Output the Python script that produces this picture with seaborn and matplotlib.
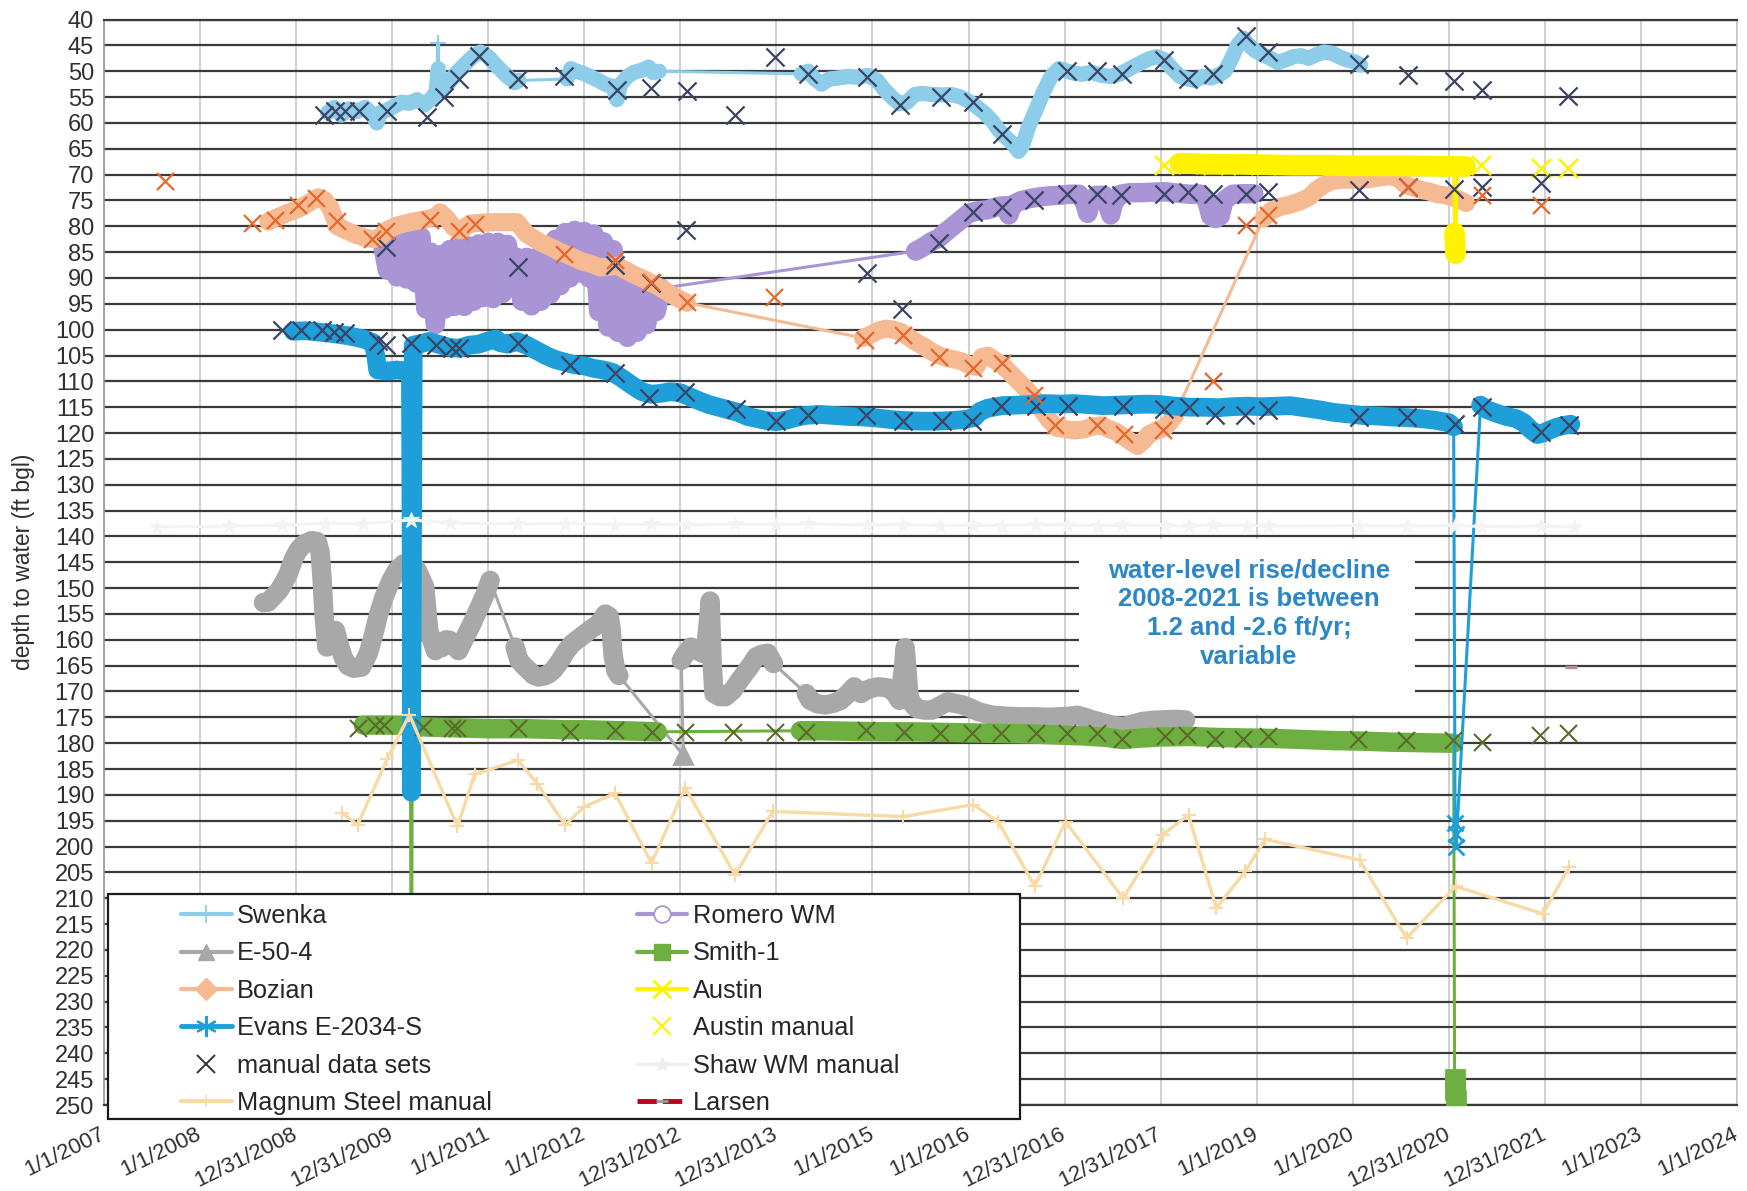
import matplotlib
matplotlib.use("Agg")
import matplotlib.pyplot as plt
from matplotlib.lines import Line2D
from matplotlib.patches import Rectangle
import seaborn as sns

# ---------------------------------------------------------------- axis data
YEAR_TICKS = list(range(2007, 2025))
TICK_LABELS = ["1/1/2007", "1/1/2008", "12/31/2008", "12/31/2009", "1/1/2011",
               "1/1/2012", "12/31/2012", "12/31/2013", "1/1/2015", "1/1/2016",
               "12/31/2016", "12/31/2017", "1/1/2019", "1/1/2020", "12/31/2020",
               "12/31/2021", "1/1/2023", "1/1/2024"]
DEPTH_TICKS = list(range(40, 251, 5))

# ------------------------------------------- logger records (runs of dense data)
SWENKA_X = [
    [2009.33, 2009.40, 2009.47, 2009.55, 2009.63, 2009.72, 2009.80, 2009.84, 2009.88,
     2009.95, 2010.02, 2010.10, 2010.18, 2010.26, 2010.34, 2010.42, 2010.46, 2010.47,
     2010.48, 2010.49, 2010.52, 2010.58, 2010.66, 2010.75, 2010.85, 2010.92, 2011.00,
     2011.10, 2011.20, 2011.28, 2011.32],
    [2011.82, 2011.86, 2011.92, 2012.00, 2012.08, 2012.15, 2012.22, 2012.30, 2012.34,
     2012.38, 2012.45, 2012.52, 2012.60, 2012.67, 2012.72, 2012.78],
    [2014.26, 2014.33, 2014.40, 2014.47, 2014.55, 2014.65, 2014.75, 2014.85, 2014.95,
     2015.05, 2015.12, 2015.20, 2015.28, 2015.36, 2015.44, 2015.52, 2015.62, 2015.72,
     2015.82, 2015.92, 2016.00, 2016.08, 2016.16, 2016.24, 2016.32, 2016.40, 2016.46,
     2016.52, 2016.56, 2016.62, 2016.70, 2016.78, 2016.86, 2016.94, 2017.00, 2017.08,
     2017.18, 2017.28, 2017.38, 2017.48, 2017.58, 2017.68, 2017.78, 2017.88, 2017.96,
     2018.04, 2018.12, 2018.20, 2018.28, 2018.36, 2018.44, 2018.52, 2018.60, 2018.67,
     2018.74, 2018.80, 2018.86, 2018.92, 2018.98, 2019.06, 2019.14, 2019.22, 2019.30,
     2019.38, 2019.46, 2019.54, 2019.62, 2019.70, 2019.78, 2019.86, 2019.94, 2020.02,
     2020.08],
]
SWENKA_Y = [
    [58.0, 57.0, 58.5, 57.3, 57.8, 57.0, 58.5, 60.0, 58.0, 57.5, 56.8, 56.0, 56.2, 55.5,
     56.5, 55.0, 54.0, 51.5, 49.5, 51.5, 53.5, 52.5, 50.5, 48.8, 47.0, 46.3, 47.2, 49.2,
     51.0, 52.2, 51.8],
    [51.5, 49.5, 50.0, 50.5, 51.2, 51.8, 52.5, 53.0, 55.5, 52.5, 51.0, 50.2, 49.8, 49.2,
     50.3, 50.0],
    [50.5, 50.0, 51.5, 52.5, 51.5, 51.3, 51.0, 51.2, 50.8, 51.8, 53.5, 55.0, 56.3, 56.0,
     54.5, 54.3, 54.5, 54.6, 54.5, 55.0, 55.8, 56.8, 58.0, 59.5, 61.5, 63.0, 64.0, 65.5,
     64.5, 61.0, 57.5, 54.0, 51.0, 49.5, 49.8, 50.3, 50.6, 50.2, 50.8, 51.0, 50.5, 49.5,
     48.5, 47.6, 47.2, 47.8, 49.5, 51.0, 51.5, 51.8, 51.0, 51.3, 50.8, 50.0, 47.5, 45.0,
     43.6, 45.0, 46.0, 46.8, 47.5, 48.3, 47.8, 47.2, 47.0, 47.5, 46.8, 46.3, 46.5, 47.2,
     47.8, 48.2, 48.8],
]
SWENKA_SPIKE_X = [2010.48, 2010.48]
SWENKA_SPIKE_Y = [50.0, 44.5]

ROMERO_X = [
    [2009.90, 2009.95, 2010.00, 2010.05, 2010.10, 2010.15, 2010.20, 2010.25, 2010.30,
     2010.35, 2010.40, 2010.45, 2010.50, 2010.55, 2010.60, 2010.65, 2010.70, 2010.75,
     2010.80, 2010.85, 2010.90, 2010.95, 2011.00, 2011.05, 2011.10, 2011.15, 2011.20,
     2011.25, 2011.30, 2011.35, 2011.40, 2011.45, 2011.50, 2011.55, 2011.60, 2011.65,
     2011.70, 2011.75, 2011.80, 2011.85, 2011.90, 2011.95, 2012.00, 2012.05, 2012.10,
     2012.15, 2012.20, 2012.25, 2012.30, 2012.35, 2012.40, 2012.45, 2012.50, 2012.55,
     2012.60, 2012.65, 2012.70, 2012.75, 2012.80],
    [2015.45, 2015.53, 2015.61, 2015.69, 2015.77, 2015.85, 2015.93, 2016.00, 2016.10,
     2016.20, 2016.30, 2016.38, 2016.42, 2016.46, 2016.55, 2016.65, 2016.75, 2016.85,
     2016.95, 2017.05, 2017.15, 2017.21, 2017.24, 2017.27, 2017.33, 2017.41, 2017.45,
     2017.48, 2017.51, 2017.58, 2017.68, 2017.80, 2017.92, 2018.05, 2018.18, 2018.30,
     2018.42, 2018.48, 2018.52, 2018.57, 2018.62, 2018.66, 2018.75, 2018.85, 2018.97],
]
ROMERO_Y = [
    [83.5, 88.5, 81.5, 89.8, 80.8, 90.2, 81.0, 91.0, 82.0, 96.0, 85.0, 99.0, 85.5, 96.0,
     84.5, 95.5, 84.0, 95.5, 83.8, 94.5, 83.4, 93.8, 83.1, 94.0, 83.1, 93.0, 83.5, 91.5,
     86.0, 94.5, 86.0, 95.4, 86.0, 94.5, 86.3, 93.1, 82.5, 91.5, 81.2, 90.0, 80.8, 89.0,
     81.0, 90.0, 81.5, 96.5, 83.0, 99.5, 84.5, 100.5, 90.0, 101.5, 90.5, 100.5, 91.0,
     99.0, 92.0, 96.5, 92.0],
    [84.8, 84.0, 83.0, 82.3, 81.0, 79.8, 78.6, 77.5, 77.0, 76.8, 76.2, 76.0, 77.8, 75.8,
     75.0, 74.6, 74.3, 74.1, 74.0, 73.8, 73.8, 75.5, 77.5, 75.5, 74.0, 74.0, 76.0, 77.8,
     75.5, 73.8, 73.5, 73.5, 73.4, 73.3, 73.6, 73.8, 73.8, 75.0, 78.0, 78.5, 78.0, 75.0,
     73.8, 73.7, 73.7],
]

E50_X = [
    [2008.66, 2008.71, 2008.77, 2008.82, 2008.87, 2008.92, 2008.97, 2009.02, 2009.08,
     2009.16, 2009.22, 2009.25, 2009.27, 2009.29, 2009.32, 2009.36, 2009.41, 2009.45,
     2009.49, 2009.54, 2009.60, 2009.68, 2009.75, 2009.80, 2009.86, 2009.92, 2009.99,
     2010.05, 2010.12, 2010.18, 2010.26, 2010.34, 2010.36, 2010.38, 2010.42, 2010.45,
     2010.48, 2010.52, 2010.56, 2010.60, 2010.64, 2010.69, 2010.76, 2010.83, 2010.90,
     2010.97, 2011.02],
    [2011.28, 2011.32, 2011.37, 2011.42, 2011.47, 2011.52, 2011.58, 2011.63, 2011.68,
     2011.73, 2011.80, 2011.87, 2011.94, 2012.01, 2012.08, 2012.15, 2012.22, 2012.26,
     2012.28, 2012.30, 2012.33, 2012.36],
    [2013.03],
    [2013.01, 2013.06, 2013.11, 2013.17, 2013.23, 2013.27, 2013.30, 2013.31, 2013.32,
     2013.33, 2013.35, 2013.41, 2013.47, 2013.55, 2013.61, 2013.67, 2013.73, 2013.79,
     2013.85, 2013.91, 2013.97],
    [2014.31, 2014.35, 2014.43, 2014.51, 2014.59, 2014.67, 2014.74, 2014.81, 2014.88,
     2014.94, 2015.00, 2015.06, 2015.12, 2015.18, 2015.24, 2015.28, 2015.32, 2015.34,
     2015.36, 2015.38, 2015.42, 2015.46, 2015.54, 2015.62, 2015.70, 2015.78, 2015.86,
     2015.94, 2016.02, 2016.10, 2016.18, 2016.26, 2016.40, 2016.54, 2016.70, 2016.85,
     2016.93, 2017.05, 2017.13, 2017.21, 2017.29, 2017.39, 2017.49, 2017.61, 2017.71,
     2017.81, 2017.91, 2018.01, 2018.14, 2018.26],
]
E50_Y = [
    [152.8, 152.7, 151.5, 150.5, 149.0, 147.2, 144.5, 142.7, 141.5, 140.8, 141.0, 143.0,
     148.0, 155.0, 161.4, 160.0, 158.2, 161.0, 163.4, 165.0, 165.5, 165.3, 162.7, 159.5,
     155.0, 151.5, 148.5, 146.5, 145.3, 145.0, 146.5, 149.8, 154.0, 158.2, 160.5, 162.1,
     161.0, 161.5, 160.0, 160.1, 161.0, 162.1, 159.5, 156.9, 154.0, 151.1, 148.5],
    [161.4, 164.0, 165.0, 165.9, 166.8, 167.2, 167.0, 166.6, 165.8, 164.6, 162.5, 160.8,
     159.8, 158.8, 157.8, 156.9, 155.0, 155.5, 158.0, 163.0, 166.0, 166.9],
    [182.3],
    [164.0, 162.5, 161.4, 162.0, 162.6, 160.5, 155.0, 152.5, 158.0, 164.0, 170.4, 171.0,
     171.0, 169.7, 168.0, 166.5, 165.0, 163.3, 162.8, 162.6, 164.6],
    [170.4, 171.7, 172.4, 172.6, 172.3, 171.7, 170.5, 169.1, 170.4, 169.7, 169.3, 169.1,
     169.2, 169.4, 170.5, 171.7, 166.0, 161.5, 166.0, 171.0, 172.5, 173.3, 173.6, 173.6,
     172.8, 172.0, 172.3, 172.6, 173.2, 173.9, 174.3, 174.6, 174.8, 174.9, 174.9, 175.0,
     174.9, 174.8, 174.6, 175.0, 175.5, 176.0, 176.5, 176.8, 176.3, 175.8, 175.6, 175.5,
     175.4, 175.5],
]

BOZIAN_X = [
    [2008.71, 2008.80, 2008.90, 2009.03, 2009.13, 2009.23, 2009.30, 2009.36, 2009.43,
     2009.52, 2009.63, 2009.72, 2009.81, 2009.88, 2009.94, 2010.03, 2010.12, 2010.24,
     2010.36, 2010.45, 2010.50, 2010.57, 2010.64, 2010.71, 2010.76, 2010.81, 2010.92,
     2011.06, 2011.18, 2011.30, 2011.40, 2011.47, 2011.54, 2011.65, 2011.75, 2011.86,
     2011.96, 2012.07, 2012.17, 2012.26, 2012.34, 2012.43, 2012.51, 2012.62, 2012.72,
     2012.83, 2012.93, 2013.07],
    [2014.90, 2014.98, 2015.06, 2015.14, 2015.22, 2015.30, 2015.38, 2015.46, 2015.54,
     2015.62, 2015.70, 2015.78, 2015.86, 2015.94, 2016.02, 2016.08, 2016.14, 2016.20,
     2016.28, 2016.36, 2016.44, 2016.52, 2016.60, 2016.68, 2016.76, 2016.84, 2016.92,
     2017.00, 2017.10, 2017.20, 2017.30, 2017.38, 2017.46, 2017.54, 2017.62, 2017.70,
     2017.76, 2017.82, 2017.88, 2017.96, 2018.04, 2018.10, 2018.15],
    [2019.07, 2019.15, 2019.25, 2019.35, 2019.45, 2019.55, 2019.62, 2019.70, 2019.78,
     2019.88, 2020.00, 2020.10, 2020.20, 2020.30, 2020.40, 2020.48, 2020.55, 2020.63,
     2020.72, 2020.80, 2020.88, 2020.96, 2021.04, 2021.10, 2021.18],
]
BOZIAN_Y = [
    [79.1, 78.3, 77.5, 76.6, 75.5, 74.4, 75.0, 76.5, 80.0, 80.8, 81.7, 82.2, 82.5, 82.0,
     80.8, 80.0, 79.5, 79.0, 78.6, 78.2, 77.3, 78.5, 80.2, 80.8, 80.2, 79.5, 79.3, 79.2,
     79.2, 79.2, 81.5, 82.3, 83.1, 84.0, 85.0, 85.8, 86.7, 87.3, 88.0, 87.8, 87.6, 88.5,
     89.3, 90.2, 91.2, 92.3, 93.5, 94.8],
    [101.6, 101.0, 100.2, 99.8, 100.0, 100.5, 101.5, 102.5, 103.3, 104.3, 105.0, 105.5,
     105.8, 106.2, 107.0, 107.2, 105.3, 105.0, 106.0, 107.0, 108.5, 110.0, 111.5, 113.2,
     115.5, 117.5, 119.0, 119.2, 119.5, 119.3, 118.7, 118.5, 119.2, 119.8, 120.8, 121.8,
     122.5, 121.5, 120.2, 119.5, 119.0, 117.8, 116.5],
    [78.5, 77.0, 76.2, 75.8, 75.2, 74.3, 73.0, 72.0, 71.2, 71.0, 71.0, 71.0, 70.8, 70.5,
     70.3, 70.8, 72.0, 72.5, 73.0, 73.3, 73.8, 74.0, 74.4, 74.8, 75.5],
]

EVANS_X = [
    [2008.97, 2009.10, 2009.25, 2009.40, 2009.55, 2009.70, 2009.80, 2009.83, 2009.85,
     2009.95, 2010.05, 2010.15, 2010.19, 2010.20, 2010.20, 2010.21, 2010.22, 2010.30,
     2010.38, 2010.46, 2010.55, 2010.62, 2010.70, 2010.80, 2010.90, 2011.00, 2011.08,
     2011.12, 2011.20, 2011.30, 2011.40, 2011.50, 2011.60, 2011.70, 2011.80, 2011.90,
     2012.00, 2012.10, 2012.20, 2012.30, 2012.40, 2012.50, 2012.60, 2012.70, 2012.80,
     2012.90, 2013.00, 2013.10, 2013.20, 2013.30, 2013.40, 2013.50, 2013.60, 2013.70,
     2013.80, 2013.90, 2014.00, 2014.10, 2014.20, 2014.30, 2014.45, 2014.60, 2014.75,
     2014.90, 2015.05, 2015.20, 2015.35, 2015.50, 2015.65, 2015.80, 2015.95, 2016.06,
     2016.12, 2016.20, 2016.35, 2016.50, 2016.65, 2016.80, 2016.95, 2017.10, 2017.25,
     2017.40, 2017.55, 2017.70, 2017.85, 2018.00, 2018.15, 2018.30, 2018.45, 2018.60,
     2018.75, 2018.90, 2019.05, 2019.20, 2019.35, 2019.50, 2019.65, 2019.80, 2019.95,
     2020.10, 2020.25, 2020.40, 2020.55, 2020.70, 2020.85, 2021.00, 2021.05],
    [2021.065, 2021.07, 2021.075],
    [2021.33, 2021.40, 2021.50, 2021.60, 2021.70, 2021.78, 2021.85, 2021.92, 2021.98,
     2022.05, 2022.12, 2022.20, 2022.27],
]
EVANS_Y = [
    [100.3, 100.2, 100.5, 100.8, 101.2, 101.8, 102.5, 105.0, 107.8, 108.0, 107.8, 108.0,
     108.3, 150.0, 189.5, 150.0, 103.0, 102.7, 102.3, 102.7, 103.2, 103.5, 103.6, 103.0,
     102.8, 102.2, 101.8, 102.5, 102.8, 102.3, 103.0, 104.0, 105.0, 105.8, 106.3, 106.8,
     107.0, 107.5, 107.8, 108.3, 109.5, 110.8, 112.0, 112.5, 112.3, 112.0, 112.2, 113.0,
     113.8, 114.5, 115.0, 115.5, 116.0, 116.8, 117.2, 117.6, 117.8, 117.5, 117.0, 116.6,
     116.4, 116.6, 116.8, 116.9, 117.1, 117.4, 117.6, 117.7, 117.7, 117.6, 117.4, 117.0,
     115.8, 115.2, 114.7, 114.6, 114.5, 114.3, 114.4, 114.3, 114.5, 114.7, 114.6, 114.5,
     114.4, 114.5, 114.8, 115.0, 115.0, 115.1, 114.9, 114.8, 114.9, 114.8, 114.7, 115.1,
     115.5, 116.0, 116.3, 116.6, 116.7, 116.9, 117.0, 117.2, 117.5, 118.0, 118.8],
    [195.5, 197.5, 200.0],
    [114.6, 115.5, 116.2, 116.8, 117.2, 118.0, 119.3, 120.3, 120.0, 119.4, 118.9, 118.5,
     118.3],
]

SMITH_X = [
    [2009.70, 2009.85, 2010.00, 2010.19],
    [2010.20],
    [2010.21, 2010.40, 2010.60, 2010.80, 2011.00, 2011.20, 2011.40, 2011.60, 2011.80,
     2012.00, 2012.20, 2012.40, 2012.60, 2012.76],
    [2014.25, 2014.50, 2014.80, 2015.10, 2015.40, 2015.70, 2016.00, 2016.30, 2016.60,
     2016.90, 2017.20, 2017.45, 2017.60, 2017.80, 2018.00, 2018.30, 2018.60, 2018.90,
     2019.20, 2019.50, 2019.80, 2020.10, 2020.40, 2020.70, 2021.00, 2021.05],
    [2021.06, 2021.065, 2021.07],
]
SMITH_Y = [
    [176.5, 176.5, 176.5, 176.6],
    [248.0],
    [176.8, 176.9, 177.0, 177.1, 177.2, 177.2, 177.2, 177.3, 177.4, 177.4, 177.5, 177.6,
     177.7, 177.8],
    [177.6, 177.6, 177.7, 177.8, 177.8, 177.9, 178.0, 178.1, 178.2, 178.4, 178.6, 178.9,
     179.3, 179.0, 178.8, 178.7, 178.9, 179.0, 179.1, 179.3, 179.5, 179.6, 179.8, 179.9,
     180.0, 180.0],
    [245.0, 247.0, 249.0],
]

AUSTIN_X = [
    [2018.20, 2018.50, 2018.80, 2019.10, 2019.40, 2019.70, 2020.00, 2020.30, 2020.60,
     2020.90, 2021.05],
    [2021.06, 2021.065, 2021.07],
    [2021.09, 2021.17],
]
AUSTIN_Y = [
    [67.8, 68.0, 68.0, 68.1, 68.2, 68.2, 68.3, 68.3, 68.3, 68.4, 68.4],
    [81.3, 83.3, 85.3],
    [68.4, 68.4],
]

# ------------------------------------------------------------ manual readings
MANUAL_X = [2009.29, 2009.41, 2009.51, 2009.65, 2009.95, 2010.36, 2010.54, 2010.70,
            2010.90, 2011.31, 2011.79, 2012.34, 2012.69, 2013.07, 2013.57, 2013.99,
            2014.33, 2014.94, 2015.29, 2015.71, 2016.05, 2016.35, 2017.02, 2017.34,
            2017.60, 2018.03, 2018.28, 2018.55, 2018.89, 2019.12, 2020.06, 2020.57,
            2021.05, 2021.35, 2022.24,
            2009.94, 2011.31, 2012.32, 2012.69, 2013.06, 2014.94, 2015.31, 2015.69,
            2016.05, 2016.35, 2016.68, 2017.02, 2017.34, 2017.59, 2018.04, 2018.28,
            2018.55, 2018.89, 2019.12, 2020.06, 2020.57, 2021.05, 2021.35, 2021.96,
            2008.85, 2009.05, 2009.27, 2009.39, 2009.51, 2009.85, 2009.94, 2010.20,
            2010.46, 2010.62, 2010.70, 2011.31, 2011.85, 2012.32, 2012.67, 2013.05,
            2013.58, 2014.00, 2014.33, 2014.93, 2015.32, 2015.72, 2016.04, 2016.34,
            2016.70, 2017.04, 2017.61, 2018.04, 2018.29, 2018.57, 2018.88, 2019.12,
            2020.06, 2020.56, 2021.06, 2021.35, 2021.96, 2022.25]
MANUAL_Y = [58.5, 57.6, 57.6, 57.6, 57.6, 58.9, 55.0, 51.5, 47.0, 51.6, 50.9, 53.7,
            53.3, 53.9, 58.4, 47.3, 50.5, 51.1, 56.6, 55.0, 56.0, 62.1, 50.0, 50.0,
            50.5, 47.9, 51.5, 50.5, 43.1, 46.3, 48.6, 50.8, 51.8, 53.7, 54.7,
            84.0, 87.8, 87.5, 91.0, 80.7, 89.1, 96.0, 83.3, 77.2, 76.2, 74.9, 73.8,
            73.8, 74.0, 73.7, 73.3, 73.7, 73.7, 73.3, 73.0, 72.4, 72.7, 72.4, 71.7,
            100.0, 100.0, 100.0, 100.4, 100.7, 102.2, 102.9, 102.6, 102.9, 103.6,
            103.6, 102.6, 106.8, 108.4, 113.2, 112.0, 115.3, 117.6, 116.6, 116.6,
            117.6, 117.6, 117.6, 114.7, 114.7, 114.7, 114.7, 115.3, 115.0, 116.6,
            116.6, 115.6, 116.9, 116.9, 118.2, 115.0, 119.8, 118.5]

BOZIAN_MANUAL_X = [2007.64, 2008.54, 2008.78, 2009.02, 2009.21, 2009.43, 2009.79, 2009.94,
                   2010.39, 2010.70, 2010.86, 2011.79, 2012.32, 2012.69, 2013.07, 2013.98,
                   2014.92, 2015.32, 2015.69, 2016.05, 2016.35, 2016.68, 2016.90, 2017.34,
                   2017.62, 2018.02, 2018.55, 2018.89, 2019.12, 2020.57, 2021.35, 2021.96]
BOZIAN_MANUAL_Y = [71.3, 79.4, 78.7, 75.9, 74.6, 79.0, 82.5, 81.0, 78.8, 81.0, 79.6, 85.4,
                   86.5, 90.7, 94.6, 93.6, 102.0, 101.0, 105.2, 107.4, 106.5, 112.6, 118.5,
                   118.5, 120.2, 119.5, 110.0, 79.8, 77.8, 72.4, 74.0, 75.9]

SMITH_MANUAL_X = [2009.64, 2009.82, 2009.92, 2010.32, 2010.62, 2010.68, 2011.31, 2011.85,
                  2012.32, 2012.70, 2013.05, 2013.55, 2013.99, 2014.31, 2014.93, 2015.33,
                  2015.70, 2016.04, 2016.34, 2016.70, 2017.02, 2017.34, 2017.60, 2018.05,
                  2018.27, 2018.57, 2018.86, 2019.12, 2020.05, 2020.55, 2021.04, 2021.34,
                  2021.95, 2022.24]
SMITH_MANUAL_Y = [177.1, 176.4, 176.4, 176.8, 177.1, 177.1, 177.1, 177.8, 177.5, 177.8,
                  177.8, 177.8, 177.8, 177.8, 177.5, 177.8, 178.0, 178.1, 178.1, 178.1,
                  178.1, 178.1, 179.1, 178.7, 178.4, 179.1, 179.1, 178.7, 179.1, 179.4,
                  179.4, 179.8, 178.4, 178.1]

AUSTIN_MANUAL_X = [2018.04, 2018.28, 2018.55, 2018.86, 2019.10, 2020.05, 2020.55, 2021.33,
                   2021.96, 2022.24]
AUSTIN_MANUAL_Y = [68.2, 68.0, 68.1, 68.1, 68.2, 68.3, 68.3, 68.2, 68.8, 68.8]

MAGNUM_X = [2009.48, 2009.64, 2009.95, 2010.18, 2010.68, 2010.86, 2011.31, 2011.51,
            2011.80, 2012.00, 2012.32, 2012.70, 2013.05, 2013.57, 2013.96, 2015.32,
            2016.05, 2016.31, 2016.69, 2017.01, 2017.61, 2018.02, 2018.29, 2018.58,
            2018.88, 2019.09, 2020.07, 2020.56, 2021.07, 2021.98, 2022.25]
MAGNUM_Y = [193.5, 195.8, 183.0, 174.5, 196.1, 186.0, 183.3, 187.8, 195.8, 192.3, 189.7,
            203.2, 188.6, 205.5, 193.2, 194.2, 191.9, 195.2, 207.7, 195.2, 210.0, 197.7,
            193.9, 211.9, 204.8, 198.6, 202.6, 217.7, 207.7, 213.0, 204.0]

SHAW_X = [2007.55, 2008.30, 2008.85, 2009.30, 2009.70, 2010.20, 2010.60, 2011.30,
          2011.80, 2012.32, 2012.69, 2013.07, 2013.57, 2014.00, 2014.33, 2014.94,
          2015.32, 2015.70, 2016.05, 2016.35, 2016.70, 2017.02, 2017.35, 2017.60,
          2018.05, 2018.30, 2018.55, 2018.90, 2019.12, 2020.06, 2020.56, 2021.06,
          2021.35, 2021.96, 2022.30]
SHAW_Y = [138.2, 138.0, 137.8, 137.5, 137.6, 136.8, 137.4, 137.6, 137.5, 137.7, 137.6,
          137.8, 137.6, 137.7, 137.6, 137.8, 137.7, 137.9, 137.8, 137.9, 137.7, 137.8,
          137.9, 137.8, 137.9, 138.0, 137.8, 137.9, 138.0, 137.9, 138.0, 137.9, 138.1,
          138.0, 138.2]

LARSEN_X = [2022.27]
LARSEN_Y = [165.2]

NOTE = "water-level rise/decline\n2008-2021 is between\n1.2 and -2.6 ft/yr;\nvariable"

# ------------------------------------------------------------------- colours
C_SWENKA = "#8DCDEA"
C_E50 = "#A8A8A8"
C_BOZIAN = "#F6BA92"
C_EVANS = "#1E9FDA"
C_ROMERO = "#A995D5"
C_SMITH = "#6DB041"
C_AUSTIN = "#FFF200"
C_MAGNUM = "#F7DAA5"
C_SHAW = "#F3F3F3"
C_MANUAL = "#3A4565"
C_BOZ_MAN = "#E6682C"
C_SMITH_MAN = "#5B6A2C"
C_LARSEN = "#B8001E"
C_NOTE = "#2C87C6"

THIN = 2.2

sns.set_style("white")
plt.rcParams["font.family"] = ["Liberation Sans", "DejaVu Sans"]

fig = plt.figure(figsize=(17.47, 11.91), dpi=100)
ax = fig.add_axes([0.0595, 0.0722, 0.9348, 0.9114])


def draw_logger(runs_x, runs_y, color, lw, z, marker=None, ms=12, short_thick=True):
    flat_x = [v for r in runs_x for v in r]
    flat_y = [v for r in runs_y for v in r]
    sns.lineplot(x=flat_x, y=flat_y, sort=False, estimator=None, color=color,
                 linewidth=THIN, ax=ax, zorder=z)
    for rx, ry in zip(runs_x, runs_y):
        short = len(rx) <= 3
        if len(rx) > 1 and (short_thick or not short):
            sns.lineplot(x=rx, y=ry, sort=False, estimator=None, color=color,
                         linewidth=lw, ax=ax, zorder=z,
                         solid_joinstyle="round", solid_capstyle="round")
        if marker is not None and short:
            ax.plot(rx, ry, ls="none", marker=marker, ms=ms, color=color,
                    mec=color, mew=2, zorder=z)


draw_logger(SWENKA_X, SWENKA_Y, C_SWENKA, 11, 2)
sns.lineplot(x=SWENKA_SPIKE_X, y=SWENKA_SPIKE_Y, sort=False, estimator=None,
             color=C_SWENKA, linewidth=3, marker="+", markersize=12,
             markeredgewidth=1.5, markeredgecolor=C_SWENKA, ax=ax, zorder=2)
draw_logger(ROMERO_X, ROMERO_Y, C_ROMERO, 14, 3)
draw_logger(E50_X, E50_Y, C_E50, 14, 4, marker="^", ms=13)
draw_logger(SMITH_X, SMITH_Y, C_SMITH, 14, 5, marker="s", ms=13)
draw_logger(BOZIAN_X, BOZIAN_Y, C_BOZIAN, 13, 6)
draw_logger(AUSTIN_X, AUSTIN_Y, C_AUSTIN, 15, 7)
draw_logger(EVANS_X, EVANS_Y, C_EVANS, 13.5, 8, marker="x", ms=11, short_thick=False)

# manual measurements
sns.scatterplot(x=AUSTIN_MANUAL_X, y=AUSTIN_MANUAL_Y, marker="x", s=190, color=C_AUSTIN,
                linewidth=1.8, ax=ax, zorder=9, legend=False)
sns.scatterplot(x=MANUAL_X, y=MANUAL_Y, marker="x", s=170, color=C_MANUAL,
                linewidth=1.6, ax=ax, zorder=10, legend=False)
sns.scatterplot(x=BOZIAN_MANUAL_X, y=BOZIAN_MANUAL_Y, marker="x", s=150, color=C_BOZ_MAN,
                linewidth=1.6, ax=ax, zorder=10, legend=False)
sns.scatterplot(x=SMITH_MANUAL_X, y=SMITH_MANUAL_Y, marker="x", s=150, color=C_SMITH_MAN,
                linewidth=1.5, ax=ax, zorder=10, legend=False)

sns.lineplot(x=SHAW_X, y=SHAW_Y, sort=False, estimator=None, color=C_SHAW, linewidth=2.2,
             marker="*", markersize=12, markeredgecolor="#F5F5F5", ax=ax, zorder=11)
sns.lineplot(x=MAGNUM_X, y=MAGNUM_Y, sort=False, estimator=None, color=C_MAGNUM,
             linewidth=2.4, marker="+", markersize=10, markeredgewidth=1.5,
             markeredgecolor=C_MAGNUM, ax=ax, zorder=12)
ax.plot(LARSEN_X, LARSEN_Y, ls="none", marker="_", ms=8, mew=2.5, color="#B88A9A",
        zorder=13)

# text box with the trend note (covers the grid behind it)
ax.add_patch(Rectangle((2017.15, 140.45), 3.5, 34.1, facecolor="white",
                       edgecolor="none", zorder=1.5))
ax.text(2018.92, 154.9, NOTE, ha="center", va="center", fontsize=18.5,
        fontweight="bold", color=C_NOTE, linespacing=1.26, zorder=20)

# ------------------------------------------------------------------- axes
ax.set_xlim(2007, 2024)
ax.set_ylim(250, 40)
ax.set_yticks(DEPTH_TICKS)
ax.set_xticks(YEAR_TICKS)
ax.set_xticklabels(TICK_LABELS, rotation=26, ha="right", va="center",
                   rotation_mode="anchor")
ax.set_axisbelow(True)
ax.yaxis.grid(True, color="#3A3A3A", linewidth=1.6)
ax.xaxis.grid(True, color="#C4C4C4", linewidth=1.1)
ax.tick_params(axis="y", direction="inout", length=8, width=1, color="#9A9A9A",
               labelsize=17, labelcolor="#303030", pad=3)
ax.tick_params(axis="x", length=5, width=1, color="#C4C4C4", labelsize=16,
               labelcolor="#303030", pad=15)
for side, col, w in [("left", "#9A9A9A", 1.2), ("bottom", "#3A3A3A", 1.6),
                     ("top", "#3A3A3A", 1.6), ("right", "#C4C4C4", 1.1)]:
    ax.spines[side].set_visible(True)
    ax.spines[side].set_color(col)
    ax.spines[side].set_linewidth(w)
ax.set_xlabel("")
ax.set_ylabel("depth to water (ft bgl)", fontsize=16.5, color="#303030")
ax.yaxis.set_label_coords(-0.0424, 0.5)

# ------------------------------------------------------------------ legend
fig.add_artist(Rectangle((0.0620, 0.0604), 0.5219, 0.1887, transform=fig.transFigure,
                         facecolor="white", edgecolor="#1A1A1A", linewidth=1.6,
                         zorder=4))

left_handles = [
    Line2D([], [], color=C_SWENKA, lw=3, marker="+", ms=13, mew=1.3),
    Line2D([], [], color=C_E50, lw=3, marker="^", ms=12),
    Line2D([], [], color=C_BOZIAN, lw=3, marker="D", ms=11),
    Line2D([], [], color=C_EVANS, lw=3.5, marker=(6, 2, 0), ms=15, mew=1.5),
    Line2D([], [], color="#333333", ls="none", marker="x", ms=13, mew=1.4),
    Line2D([], [], color=C_MAGNUM, lw=3, marker="+", ms=8, mew=1.2),
]
left_labels = ["Swenka", "E-50-4", "Bozian", "Evans E-2034-S", "manual data sets",
               "Magnum Steel manual"]
right_handles = [
    Line2D([], [], color=C_ROMERO, lw=3, marker="o", ms=12, mfc="white", mew=1.3),
    Line2D([], [], color=C_SMITH, lw=3, marker="s", ms=12),
    Line2D([], [], color=C_AUSTIN, lw=3, marker="x", ms=13, mew=2),
    Line2D([], [], color=C_AUSTIN, ls="none", marker="x", ms=13, mew=1.5),
    Line2D([], [], color="#EEEEEE", lw=2.5, marker="*", ms=10),
    Line2D([], [], color=C_LARSEN, lw=3.5, ls=(0, (4, 1.2)), marker="_", ms=8,
           mec="#999999", mew=2),
]
right_labels = ["Romero WM", "Smith-1", "Austin", "Austin manual", "Shaw WM manual",
                "Larsen"]

legend_style = dict(loc="upper left", frameon=False, fontsize=18.3, handlelength=2.0,
                    handletextpad=0.2, labelspacing=0.53, borderpad=0,
                    borderaxespad=0, numpoints=1, labelcolor="#262626")
leg1 = fig.legend(left_handles, left_labels, bbox_to_anchor=(0.1036, 0.2410),
                  **legend_style)
leg2 = fig.legend(right_handles, right_labels, bbox_to_anchor=(0.3644, 0.2410),
                  **legend_style)
leg1.set_zorder(5)
leg2.set_zorder(5)

fig.savefig("out.png", dpi=100)
